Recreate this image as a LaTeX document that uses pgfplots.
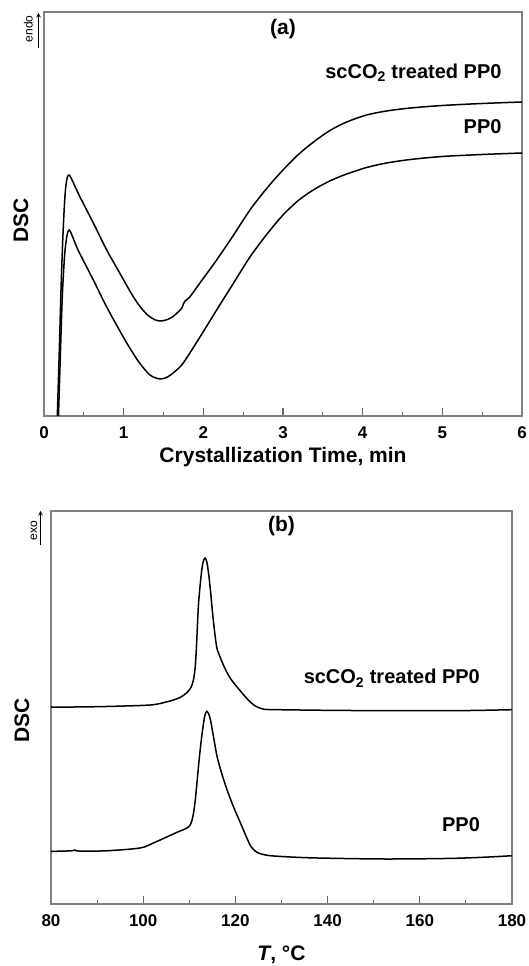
\documentclass[border=0pt]{standalone}
\usepackage{fontspec}
\setmainfont{Liberation Sans}
\usepackage{pgfplots}
\pgfplotsset{compat=1.18}

\pgfplotsset{
  dsc/.style={
    scale only axis, anchor=south west, clip=true,
    axis line style={line width=1.2pt, black!50},
    tick style={line width=1.1pt, black!60},
    major tick length=8pt, minor tick length=4pt,
    tick align=inside, xtick pos=bottom, ytick=\empty,
    minor x tick num=1,
    /pgf/number format/assume math mode=true,
    xticklabel style={font=\bfseries\fontsize{17}{17}\selectfont, anchor=center, yshift=-17pt},
    xlabel style={font=\bfseries\fontsize{21}{21}\selectfont, anchor=center},
    ylabel style={font=\bfseries\fontsize{21}{21}\selectfont, anchor=center, rotate=0},
  },
  curve/.style={black, line width=1.5pt, smooth, tension=0.5},
}

\begin{document}
\begin{tikzpicture}[x=1pt,y=1pt]
\useasboundingbox (0,0) rectangle (528,966);

% (a) isothermal crystallization
\begin{axis}[dsc,
  at={(44pt,550pt)}, width=478pt, height=404pt,
  xmin=0, xmax=6, ymin=0, ymax=404,
  xtick={0,1,2,3,4,5,6},
  xlabel={Crystallization Time, min},
  xlabel style={at={([yshift=-41pt]axis description cs:0.5,0)}},
  ylabel={DSC},
  ylabel style={at={([xshift=-23pt]axis description cs:0,0.485)}},
]
\addplot[curve] coordinates {
  (0.165,-5) (0.19,60) (0.215,130) (0.24,185) (0.265,222) (0.29,238)
  (0.314,241) (0.34,238) (0.37,233) (0.41,226) (0.452,219) (0.619,193)
  (0.787,166) (0.90,150) (1.0,136) (1.1,122) (1.2,110) (1.3,101) (1.4,96)
  (1.47,95) (1.55,96.5) (1.62,99.5) (1.69,104.5) (1.73,108) (1.75,112)
  (1.77,115) (1.83,119) (1.957,133) (2.167,156) (2.38,181) (2.585,206)
  (2.8,228) (3.0,246) (3.2,262) (3.4,275) (3.6,286) (3.8,294) (4.05,301)
  (4.3,305) (4.6,308) (5.0,310.5) (5.5,312.5) (6.0,314)
};
\addplot[curve] coordinates {
  (0.18,-5) (0.205,60) (0.23,120) (0.26,162) (0.29,181) (0.317,186)
  (0.345,182) (0.375,176) (0.41,169) (0.452,162) (0.619,136) (0.787,109)
  (0.995,79) (1.10,65) (1.2,53) (1.33,41) (1.455,37) (1.55,39) (1.65,45)
  (1.748,53) (1.95,78) (2.167,106) (2.38,133) (2.585,159) (2.8,182)
  (3.0,201) (3.2,216) (3.4,227) (3.6,235.5) (3.8,242) (4.05,248.5)
  (4.3,253) (4.6,256.5) (5.0,259.5) (5.5,261.5) (6.0,263)
};
\node[font=\bfseries\fontsize{21}{21}\selectfont] at (axis cs:3,387) {(a)};
\node[font=\bfseries\fontsize{20}{20}\selectfont, anchor=base east] at (axis cs:5.787,337.5) {scCO\textsubscript{2} treated PP0};
\node[font=\bfseries\fontsize{20}{20}\selectfont, anchor=base east] at (axis cs:5.787,282.5) {PP0};
\end{axis}

% (b) cooling scan
\begin{axis}[dsc,
  at={(51pt,62pt)}, width=461pt, height=393pt,
  xmin=80, xmax=180, ymin=0, ymax=393,
  xtick={80,100,120,140,160,180},
  xlabel={\textit{T}, °C},
  xlabel style={at={([yshift=-51pt]axis description cs:0.5,0)}},
  ylabel={DSC},
  ylabel style={at={([xshift=-29pt]axis description cs:0,0.468)}},
]
\addplot[curve] coordinates {
  (80,197) (85,197) (92,197.5) (101.5,199) (105,202) (106.5,204) (108,206.5)
  (109.4,211) (110.3,216) (110.9,224) (111.3,238) (111.6,262) (112.0,300)
  (112.6,330) (113.0,342) (113.4,346) (113.8,342) (114.2,330) (114.6,313)
  (115.2,284) (115.9,258) (116.5,249) (117.2,241) (118,233) (119,225)
  (120,219) (121,213.5) (122,208) (123,203) (124,199) (125,196.5)
  (126,195) (127,194.5) (134,194) (145,193.5) (167,193.3) (180,194.3)
};
\addplot[curve] coordinates {
  (80,52.6) (84.5,53.2) (85.2,54) (86,53) (92,53.2) (99.3,56) (102.2,61)
  (105.1,67) (107.3,71.6) (109.5,76) (110.3,80) (110.8,88) (111.3,104)
  (112,138) (112.5,160) (113,178) (113.4,189) (113.8,192.6) (114.2,190)
  (114.6,184) (115.3,166) (116,148) (117,131) (118.2,114) (119.6,97)
  (121.1,81) (122.3,68) (123.3,58) (124.3,53) (125.4,50.3) (127.6,48.3)
  (132,47) (137.8,46) (152.3,45) (166.7,45.6) (175,47) (180,48.3)
};
\node[font=\bfseries\fontsize{21}{21}\selectfont] at (axis cs:130,378) {(b)};
\node[font=\bfseries\fontsize{20}{20}\selectfont, anchor=base east] at (axis cs:173.8,220) {scCO\textsubscript{2} treated PP0};
\node[font=\bfseries\fontsize{20}{20}\selectfont, anchor=base east] at (axis cs:173.8,72.3) {PP0};
\end{axis}

% heat-flow direction marks
\node[rotate=90, anchor=base, font=\fontsize{12}{12}\selectfont] at (32.5,937) {endo};
\draw[-stealth, line width=1pt] (38.5,918) -- (38.5,953);
\node[rotate=90, anchor=base, font=\fontsize{12}{12}\selectfont] at (37,435) {exo};
\draw[-stealth, line width=1pt] (40.5,421) -- (40.5,455);
\end{tikzpicture}
\end{document}
